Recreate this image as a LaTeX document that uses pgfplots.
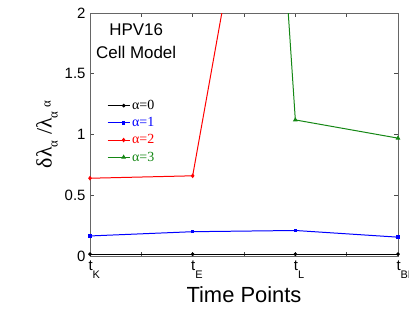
\documentclass[border=0pt]{standalone}
\usepackage{pgfplots}
\pgfplotsset{compat=1.18}
\usepackage{fontspec}
\setmainfont{Liberation Sans}
\newfontfamily\serifgr{Liberation Serif}
\definecolor{dgreen}{RGB}{20,135,20}
\newcommand{\sub}[1]{\raisebox{-1.0ex}{\fontsize{11}{11}\selectfont #1}}
\begin{document}
\begin{tikzpicture}
\useasboundingbox (-90bp,-66bp) rectangle (319bp,256bp);
\begin{axis}[
  anchor=south west, at={(0,0)},
  scale only axis, width=308bp, height=243bp,
  xmin=0, xmax=3, ymin=0, ymax=2,
  xtick={0,1,2,3},
  xticklabels={t\sub{K},t\sub{E},t\sub{L},t\sub{BR}},
  minor xtick={0.5,1.5,2.5},
  ytick={0,0.5,1,1.5,2},
  yticklabels={0,0.5,1,1.5,2},
  tick align=inside,
  major tick length=4bp, minor tick length=4bp,
  tick style={black!70, line width=0.6pt},
  axis line style={black!60, line width=0.8pt},
  tick label style={font=\fontsize{15}{15}\selectfont},
  /pgf/number format/assume math mode=true,
  xticklabel style={yshift=-1bp, anchor=north west, xshift=-5bp},
  yticklabel style={xshift=-1bp},
  xlabel={Time Points},
  xlabel style={font=\fontsize{22}{22}\selectfont, yshift=-2bp},
  ylabel={\serifgr δλ\raisebox{-0.6ex}{\fontsize{13}{13}\selectfont α} /λ\raisebox{-0.6ex}{\fontsize{13}{13}\selectfont α}\,\raisebox{0.1ex}{\fontsize{13}{13}\selectfont α}},
  ylabel style={font=\fontsize{22}{22}\selectfont, yshift=0bp},
  legend style={at={(0.055,0.65)}, anchor=north west, draw=none, fill=none,
    font=\serifgr\fontsize{14}{14}\selectfont, row sep=2.5bp,
    inner sep=0pt},
  legend cell align=left,
  legend image code/.code={\draw[#1] (0bp,0bp) -- (22bp,0bp); \draw[#1, mark repeat=1] plot coordinates {(16bp,0bp)};},
  clip=true,
]
\addplot[black, line width=1pt, mark=*, mark size=1.3pt] coordinates {(0,0.015) (1,0.015) (2,0.015) (3,0.015)};
\addlegendentry{\textcolor{black}{α=0}}
\addplot[blue, line width=1pt, mark=square*, mark size=1.2pt] coordinates {(0,0.165) (1,0.20) (2,0.21) (3,0.155)};
\addlegendentry{\textcolor{blue}{α=1}}
\addplot[red, line width=1pt, mark=diamond*, mark size=1.6pt] coordinates {(0,0.64) (1,0.66) (2,5.38) (3,5.0)};
\addlegendentry{\textcolor{red}{α=2}}
\addplot[dgreen, line width=1pt, mark=triangle*, mark size=1.8pt] coordinates {(0,14) (1,13.9) (2,1.12) (3,0.97)};
\addlegendentry{\textcolor{dgreen}{α=3}}
\node[align=center, font=\fontsize{17}{23}\selectfont, anchor=north] at (axis cs:0.45,1.94) {HPV16\\Cell Model};
\end{axis}
\end{tikzpicture}
\end{document}
